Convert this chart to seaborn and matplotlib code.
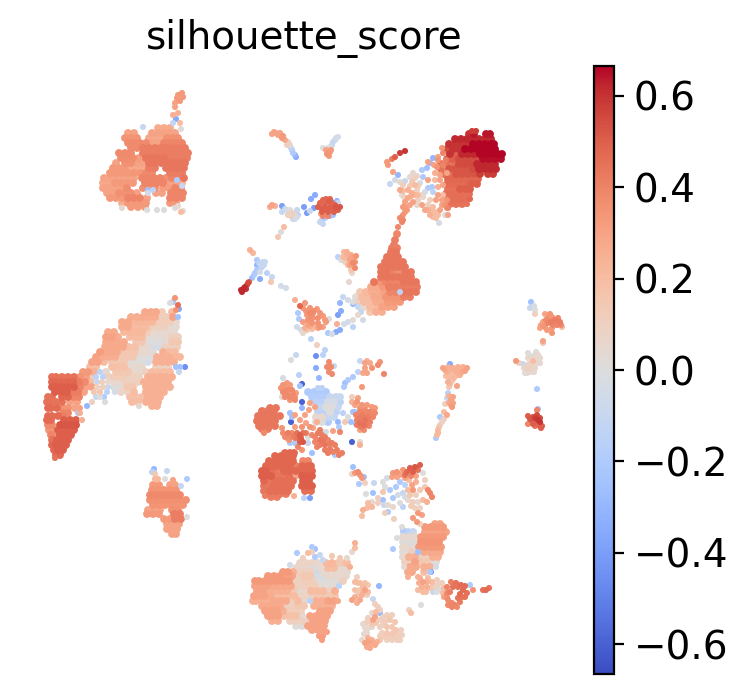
import matplotlib
matplotlib.use("Agg")
import matplotlib.pyplot as plt
import pandas as pd
import seaborn as sns
from matplotlib.cm import ScalarMappable
from matplotlib.colors import Normalize

# Embedding cells, stored as rows: (umap_y, silhouette, [umap_x, ...])
upper_left_rows = [
    (128,.27,[158,164,170]),(133,.3,[128,134,152,158,164,170,175]),
    (138,.35,[125,131,137]),(138,.28,[149,155,161]),(138,.36,[167,173,178]),
    (143,.38,[128,134,140,146]),(143,.3,[152,158]),(143,.4,[164,170,176,182]),
    (148,.38,[131,137]),(148,.42,[143,149,155,161,167,173,179,185]),
    (153,.38,[119,125,131]),(153,.42,[143,149,155,161,167,173,179,185,188]),
    (158,.37,[121,127,133]),(158,.32,[139]),(158,.44,[146,152,158,164]),(158,.42,[170,176,182,187]),
    (163,.3,[116]),(163,.36,[125,131]),(163,.3,[137,143]),(163,.44,[149,155,161,167,173,179,185]),
    (168,.33,[113,119,125]),(168,.28,[131,137,143]),(168,.42,[149,155]),(168,.44,[166,172,178,184]),
    (173,.33,[110,116,122,128]),(173,.34,[134,140]),(173,.38,[146,152]),(173,.42,[170,176,182]),
    (178,.3,[104,110,116,122,128,134]),(178,.4,[142,148,154,160]),(178,.36,[166]),(178,.4,[172,178]),(178,.44,[184]),
    (183,.28,[103,109]),(183,.33,[115,121,127,133]),(183,.4,[145,151,157,163]),(183,.3,[170,176]),(183,.24,[182]),
    (188,.3,[103,109,115,121]),(188,.37,[127]),(188,.36,[143,149,155]),(188,.32,[163,169]),(188,.4,[175,181]),
    (193,.3,[107,113]),(193,.36,[119,125,131]),(193,.3,[137,156,162]),(193,.4,[171,177,183]),
    (198,.33,[110,116,122]),(198,.4,[128,134,140]),(198,.3,[147]),(198,.4,[170,176,182]),
    (203,.25,[122]),(203,.33,[128,134,140,146,170,176]),
    (207,.33,[131,138,145]),
]
upper_left_spots = [
    (182,93,.33),(178,95,.33),(183,97,.33),(177,98,.33),(180,101,.33),(175,103,.3),(175,107,.3),(173,115,.25),
    (178,113,.25),(176,119,-.35),(173,123,-.12),(180,123,.2),(181,129,.02),(122,208,.05),(175,208,.0),
    (147,210,.0),(157,210,.0),(164,210,.0),(143,127,-.1),(148,190,-.25),(153,190,-.15),(148,193,-.05),
    (177,180,-.2),(182,186,-.1),(178,206,.05),(183,211,.02),(181,212,.2),
]

left_hub_rows = [
    (312,.28,[145,151,156]),(312,.12,[162]),(312,.2,[172]),
    (317,.26,[131,137,143,149,155]),(317,.1,[161,167]),(317,.3,[173]),
    (322,.28,[122,128]),(322,.22,[134,140,146,152]),(322,.12,[158,164,170]),(322,.05,[176]),
    (327,.28,[122,128]),(327,.2,[134,140,146]),(327,.1,[152,158,164]),(327,.03,[170,176]),
    (332,.28,[108,114]),(332,.22,[124,130,136,142]),(332,.12,[148]),(332,.05,[156,162,168,174]),
    (337,.3,[106,112]),(337,.26,[118]),(337,.2,[130,136,142]),(337,.03,[148,154,160]),(337,.05,[166]),(337,.1,[172,178]),
    (342,.28,[106,112,118,124]),(342,.15,[136,142]),(342,.0,[148,154,160]),(342,.02,[166]),(342,.15,[172,178]),
    (347,.28,[105,111,117,123]),(347,.18,[129,135]),(347,.05,[141,147]),(347,-.05,[153,159]),(347,.1,[165,171,177]),
    (352,.32,[100]),(352,.28,[105,111,117]),(352,.15,[123,129,135]),(352,.05,[141,147]),(352,.0,[153]),(352,.25,[163]),(352,.2,[169,175]),
    (357,.3,[96]),(357,.26,[103,109,115]),(357,.15,[121,127,133]),(357,.0,[139,145,151]),(357,.25,[157,163,169]),(357,.22,[175,180]),
    (362,.3,[92,98]),(362,.2,[104]),(362,.15,[112,118,124]),(362,.0,[130,136,142]),(362,-.05,[148]),(362,.25,[156,162,168,174]),
    (367,.2,[90,96]),(367,.18,[112,118,124]),(367,.05,[130,136,142]),(367,.1,[156,162,168]),
    (372,.33,[83,88]),(372,.25,[94]),(372,.05,[106]),(372,.15,[116,122,128]),(372,.05,[134,140]),(372,.1,[146]),(372,.2,[152,158,164,170]),
    (377,.45,[52,56,62,68,74]),(377,.35,[80]),(377,.3,[86]),(377,.1,[92]),(377,.1,[109]),(377,.12,[115,121]),(377,.1,[127,133,139]),(377,.25,[148,154,160,166,172]),
    (382,.48,[52,55,61,67,73]),(382,.42,[79]),(382,.38,[85]),(382,.2,[90]),(382,.05,[114,120]),(382,.1,[126,132,138]),(382,.25,[144,150,156,162,168]),
    (387,.5,[52,56,62,68,74]),(387,.4,[80]),(387,.3,[86,92]),(387,.0,[114,120]),(387,.15,[127,133]),(387,.25,[146,152,158,164,170]),
    (392,.5,[55,61,67]),(392,.42,[72,78]),(392,.3,[84]),(392,.08,[121,128]),(392,.2,[134]),(392,.25,[146,152,158,164]),
    (397,.45,[48,52]),(397,.48,[62,68]),(397,.4,[74,79]),(397,.18,[130,136,142]),(397,.25,[148,154,160]),
    (402,.45,[47,50,56,62]),(402,.3,[70,77]),(402,.2,[132,138]),(402,.25,[146,152,158]),
    (406,.25,[152,157]),
    (408,.47,[48,51,57]),(408,.35,[63,68]),(408,.3,[75]),
    (413,.4,[63,68]),
    (416,.47,[48,52,58]),(416,.42,[63]),
    (420,.47,[47,51]),(420,.5,[64,70,76]),
    (425,.38,[48,52]),(425,.52,[60,66,72,76]),
    (430,.35,[49,53]),(430,.5,[58,64,70,74]),
    (435,.4,[51]),(435,.35,[55]),(435,.5,[60,66,71]),
    (440,.45,[52]),(440,.5,[57,63,68]),
    (445,.48,[52]),(445,.5,[56,62,66]),
    (450,.48,[54]),(450,.5,[58,63]),
    (455,.48,[56,60]),
]
left_hub_spots = [
    (178,305,.45),(175,298,.35),(170,303,.0),(173,302,-.2),(179,309,-.35),(176,310,.35),(178,317,-.25),(176,367,-.25),(180,367,-.25),
    (185,367,-.45),(100,372,-.15),(179,372,-.1),(96,377,-.15),(103,377,-.15),(97,382,-.1),(102,382,.1),(108,382,.05),(97,387,.1),
    (103,387,.1),(108,387,-.1),(94,392,.15),(100,392,.15),(107,392,-.15),(115,392,-.05),(96,397,-.1),(104,397,-.2),(100,397,.0),
    (92,402,.1),(105,402,.0),(87,406,-.3),(139,406,.05),(80,408,.3),(80,413,.25),(78,413,-.2),(82,420,.25),(55,458,.45),
]

lower_left_rows = [
    (485,.33,[153,159]),(485,.3,[170,175]),
    (490,.35,[152,158,164,170,176]),(495,.38,[150,156,162,168,174,180]),
    (500,.36,[150,156,162,168,174,180,186]),(505,.35,[153,159,165,171,177,183]),
    (510,.3,[148,154,160]),(510,.36,[172,178]),(514,.33,[147,153,159]),(514,.42,[174,180]),
    (519,.33,[164,170]),(519,.42,[175,181]),(524,.3,[167,173,179]),(529,.3,[167,172,177]),(534,.3,[172,176]),
]
lower_left_spots = [
    (154,469,-.3),(154,472,-.2),(152,472,-.15),(167,471,-.1),(165,479,.0),(187,479,-.2),(181,486,-.1),(187,517,.0),
    (155,474,.15),(155,479,.22),(158,479,.22),(173,480,.3),
]

top_middle_spots = [
    (272,134,.3),(276,133,.28),(280,133,.3),(282,138,.33),(285,140,.28),(288,142,.1),(290,145,.05),(292,150,-.2),
    (293,153,-.2),(296,157,-.35),(338,137,-.05),(335,140,-.1),(332,145,-.1),(328,148,.0),(328,153,.33),(327,154,.35),
    (331,150,.33),(323,148,.0),(274,132,.3),(278,135,.3),(283,136,.33),(287,145,.1),(291,148,-.15),(295,155,-.3),
    (336,138,-.05),(333,142,-.1),(330,147,-.05),(326,150,.3),(330,152,.33),(329,156,.33),
    (272,205,.3),(270,207,.28),(275,206,.25),(282,206,-.4),(282,212,-.1),(287,210,-.05),(292,213,.1),(297,210,-.1),
    (297,217,-.05),(288,215,.1),(293,219,-.1),(298,215,-.15),(304,207,-.4),(307,213,-.4),(310,211,-.1),(314,208,-.4),
    (285,209,-.1),(290,210,.0),(294,214,.05),(295,219,-.05),(291,216,.1),
    (311,199,-.35),(315,195,-.35),(284,227,.2),(281,232,.0),(278,237,.15),
    (326,199,.48),(330,199,.48),(320,203,.48),(326,203,.48),(332,203,.48),(338,203,-.1),(318,207,.5),(324,207,.5),
    (330,207,.5),(336,207,.52),(340,207,.52),(322,212,.5),(328,212,.5),(334,212,.5),(323,216,.4),(328,216,.4),
    (323,200,.48),(329,201,.5),(335,205,.5),(322,209,.5),(327,209,.5),(333,209,.5),(338,210,.5),
    (322,220,-.2),(325,218,-.2),(323,224,-.1),(330,216,-.25),(320,222,-.1),(333,215,-.25),(337,201,-.3),(332,202,-.3),(321,214,.3),
    (338,257,-.15),(347,252,.25),(343,257,.2),(348,255,.25),(356,256,.35),(345,262,.1),(350,260,.3),(353,263,.38),
    (348,265,.2),(355,268,.38),(351,270,.15),(352,273,.05),(349,282,.05),(341,260,.0),
    (346,258,.22),(351,255,.28),(352,258,.3),(350,265,.3),(355,262,.35),(344,252,.22),
]

central_ridge_rows = [
    (234,.4,[397]),(240,.42,[395]),(245,.42,[394]),(248,.42,[392,397]),(252,.44,[391,396]),(257,.44,[387,393,398]),
    (262,.44,[385,391,397,403]),(267,.44,[381,387,393,399,405]),(272,.44,[381,387]),(272,.4,[393]),(272,.35,[399]),(272,.44,[405,411]),
    (277,.44,[381,387,393,399,405,411]),(282,.44,[374]),(282,.35,[380]),(282,.4,[386,392,398]),(282,.44,[404,410,416]),
    (287,.28,[371,377]),(287,.33,[383]),(287,.42,[389,395,401,407,413,417]),
    (292,.15,[360]),(292,.22,[366]),(292,.26,[372,378]),(292,.3,[384]),(292,.4,[390,396]),(292,.44,[404,410,416]),
    (297,.03,[356]),(297,.2,[362,368]),(297,.28,[374,380]),(297,.35,[386,392,398]),(297,.42,[404,410]),
    (302,.1,[358]),(302,.2,[364,370]),(302,.27,[376,382]),(302,.33,[388,394,400]),
    (307,.05,[364]),(307,.2,[370,376]),(307,.3,[382,388,394]),(312,.15,[370]),(312,.25,[376,382]),
]
central_ridge_spots = [(400,292,-.15),(353,302,.0),(358,307,-.1),(361,312,-.1)]

top_right_rows = [
    (134,.6,[469]),(134,.64,[474,486,490]),(139,.62,[455,461,467,473,479,485,491]),
    (144,.6,[449,455,461,467]),(144,.66,[473,479,485,491,494]),(149,.55,[447]),(149,.6,[453,459]),(149,.66,[465,471,477,483,489,495]),
    (154,.6,[450]),(154,.5,[456]),(154,.62,[462,468,474]),(154,.66,[480,486,492,498,502]),(159,.5,[447,453]),(159,.55,[459,465,471,477]),(159,.65,[483,489,495,501]),
    (164,.45,[441,447,453]),(164,.55,[459,465,471]),(164,.62,[477,483,489,495]),(169,.45,[441]),(169,.52,[449,455,461,467]),(169,.55,[473]),(169,.62,[479,485,491,496]),
    (174,.45,[444,450]),(174,.52,[456,462,468,474]),(174,.58,[480,488,493]),(179,.48,[448,454,460,466,472,478]),
    (184,.47,[447,453,459,465]),(184,.5,[471,477]),(189,.45,[448,454]),(189,.5,[460,466,470]),(194,.46,[446,452,458,464,469]),
    (199,.46,[448,454,460,466]),(204,.45,[450,456,462]),
]
top_right_spots = [
    (472,131,.58),(476,131,.58),(448,208,.4),(467,204,.45),(470,199,.48),
    (405,151,.6),(400,153,.58),(395,157,.5),(392,159,.42),(387,162,.33),(388,165,.33),(393,172,.3),(398,175,-.3),
    (390,184,-.1),(395,180,-.05),(400,182,.05),(405,181,-.1),(403,185,.1),(400,190,.28),(403,191,.2),(402,195,.0),
    (413,173,.05),(415,178,.1),(412,182,.15),(415,185,.2),(417,190,.1),(412,193,.25),(408,198,.28),(413,202,.3),
    (405,202,.3),(403,207,.33),(407,210,.33),(403,215,.35),(402,222,.4),(398,227,.38),(403,220,.38),
    (410,177,.05),(417,176,.05),(410,186,.15),(418,186,.12),(408,190,.25),(415,195,.22),(410,205,.3),(405,207,.32),
    (411,196,.27),(418,195,.2),(405,212,.33),(400,218,.38),(404,197,.1),
    (422,195,.05),(420,183,-.05),(423,177,-.2),(422,170,-.2),(427,168,-.25),(430,163,-.3),(433,158,-.3),(438,157,.3),
    (443,153,.4),(442,148,.35),(428,162,.3),(428,180,.3),(435,173,.25),(437,167,.35),(443,165,.4),(447,173,.3),
    (432,187,-.2),(428,188,-.2),(433,192,-.15),(438,187,.25),(443,185,.3),(443,195,.2),(438,195,.3),(447,200,.35),
    (447,208,.35),(442,205,.3),(422,205,.3),(428,205,.1),(433,207,.2),(435,212,.2),(432,213,.2),(433,217,.2),
    (438,215,.2),(445,215,.0),(439,223,-.05),(417,205,.05),(418,200,.1),(423,197,.05),
    (425,192,-.05),(435,180,.2),(440,175,.3),(434,165,.3),(438,160,.35),(446,160,.42),(440,180,.3),(430,200,.1),
    (436,200,.3),(440,210,.3),(428,210,.25),(425,210,.28),(431,210,.2),(436,218,.2),(430,215,.25),(445,205,.35),(442,200,.3),(448,215,.3),
]

diagonal_spots = [
    (242,292,.62),(243,290,.62),(245,287,.6),(247,285,.55),(249,282,.5),(244,288,.62),(246,289,.6),(241,290,.62),(248,283,.55),
    (250,250,.25),(253,253,.22),(257,260,-.2),(257,265,-.3),(263,262,-.1),(265,262,-.1),(262,267,-.15),(260,272,-.05),
    (255,273,-.2),(252,278,-.25),(260,279,-.35),(267,273,-.15),(272,277,-.1),(271,282,.15),(281,286,-.05),(286,288,-.05),
    (259,263,-.15),(261,265,-.1),(264,265,-.1),(257,270,-.2),(254,275,-.2),
]

middle_spots = [
    (300,306,.48),(295,300,.25),(305,303,.33),(303,308,.33),(310,308,.35),(310,313,.38),(320,313,.35),(307,315,.33),
    (323,316,.33),(313,318,.35),(312,323,.35),(318,323,.35),(308,325,.3),(315,327,.22),(320,327,.35),(307,330,.15),
    (306,311,.35),(314,311,.36),(318,318,.36),(325,320,.33),(308,320,.35),(303,322,.32),(313,313,.38),(317,309,.33),
    (311,318,.36),(305,328,.25),(310,326,.28),(318,328,.3),(326,322,.32),
    (303,333,.05),(312,329,.2),(298,313,-.2),(299,319,-.2),(297,327,-.05),(301,330,-.05),(329,319,.0),(323,327,.3),
    (328,333,-.2),(332,334,-.05),(336,332,-.35),(337,324,.25),(344,324,-.05),(348,322,-.05),(353,320,.02),(340,303,-.3),
    (341,311,-.35),(338,315,-.4),(343,297,-.1),(348,300,-.05),(353,304,-.3),(358,315,.05),(363,320,-.05),
    (353,327,-.15),(340,330,-.35),(311,339,-.15),(317,345,.1),
    (316,356,-.45),(325,350,-.15),(323,355,-.15),(296,355,-.1),(291,360,.0),(316,368,-.35),(319,378,-.3),(299,375,-.15),
    (302,384,-.6),(300,386,-.25),(283,378,-.05),(329,362,.38),(327,367,.38),(331,367,.38),(329,372,.38),(332,374,.38),(334,366,-.1),
    (378,365,.38),(370,363,.28),(365,363,.3),(365,368,.3),(372,368,.35),(380,362,.35),(363,373,.28),(367,373,.3),
    (358,372,-.15),(353,377,-.2),(348,380,-.2),(345,383,-.25),(344,387,-.2),(384,374,.4),(362,387,.33),(360,361,-.1),(367,361,.25),(352,397,.1),
    (358,398,.3),(352,402,.25),(357,402,.35),(362,405,.35),(367,405,.33),(372,407,.33),(375,408,.33),(360,408,.35),
    (360,412,.4),(363,415,.42),(368,417,.42),(373,417,.4),(360,418,.42),(365,420,.45),(370,422,.42),(360,423,.45),
    (364,425,.45),(364,430,.38),(357,425,.42),(353,412,-.25),(355,412,-.25),(348,417,.0),(345,422,.15),(351,422,-.25),
    (355,405,.3),(365,410,.38),(370,412,.38),(375,413,.38),(356,415,.4),(357,420,.42),(368,412,.4),(373,412,.38),
    (366,425,.42),(361,427,.42),(369,426,.38),
    (338,422,-.3),(339,427,-.2),(343,413,-.15),(356,424,-.25),(360,430,.3),
    (283,385,.35),(287,383,.33),(283,392,.38),(288,390,.38),(292,390,.38),(285,397,.38),(290,397,.38),(295,397,.35),
    (285,388,.35),(290,385,.33),(296,393,.32),(281,388,.35),(287,394,.38),(293,394,.38),
    (282,397,.05),(290,400,.35),(295,400,.38),(302,402,-.6),(310,403,.3),(315,407,.3),(302,408,-.3),(309,410,.3),
    (305,415,.3),(295,415,.3),(290,413,-.25),(292,417,-.25),(291,422,-.6),(300,420,.3),(306,423,.3),(310,427,.35),
    (317,422,.25),(282,428,.35),(295,427,.3),(302,427,.35),
    (288,433,.42),(285,437,.38),(292,433,.38),(287,438,.35),(289,440,.35),(290,443,-.2),(297,433,.45),(300,435,.5),
    (303,433,.45),(298,438,.45),(303,442,.52),(295,443,-.2),(298,447,.4),(302,450,.35),(308,437,.0),(308,443,-.1),(313,428,.3),
    (294,436,.42),(301,438,.5),(306,433,.42),(295,438,.42),(300,442,.5),(283,433,.38),(291,437,.38),
    (320,430,.42),(315,437,.4),(322,435,.42),(325,437,.42),(315,442,.4),(320,440,.44),(328,440,.4),(320,445,.42),
    (325,445,.44),(332,443,.42),(335,445,.42),(325,450,.42),(330,449,.42),(337,450,.42),(342,453,.42),(333,452,.4),
    (318,433,.42),(312,435,.38),(317,447,.4),(330,444,.42),(323,441,.44),(328,453,.42),(339,455,.42),
    (333,431,.3),(340,432,.4),(352,442,-.6),(360,442,.05),(360,445,.25),(312,453,-.25),(335,455,-.2),
    (318,388,-.15),(322,388,-.15),(322,432,-.05),(326,432,-.05),
]
blue_core_rows = [
    (392,-.2,[308,314,320,326]),(397,-.18,[312,318,324]),(397,-.1,[330,336,340]),
    (402,-.15,[316,322]),(402,-.05,[328,334]),(402,-.15,[340]),(407,-.12,[320]),(407,.0,[326,332]),(407,-.1,[338]),
    (412,-.15,[318,324]),(412,.0,[330]),(412,-.15,[336]),(417,.05,[316,322]),(417,-.1,[328,334]),
    (422,.0,[316,322]),(422,-.2,[328]),
]
lobe_rows = [
    (408,.44,[270,276]),(411,.44,[262,268,274]),(416,.44,[258,264,270,276,280]),(421,.44,[257,263,269,275]),
    (426,.44,[259,263,269,275]),(429,.42,[262,268]),
    (453,.48,[285,290,294]),(456,.48,[275,281,287,293]),(461,.48,[269,275,281,287,293]),(461,.4,[303,308]),
    (466,.48,[266,272,278,284,290]),(466,.42,[296]),(466,.48,[302,308,311]),
    (471,.5,[262,266]),(471,.46,[272]),(471,.43,[278]),(471,.48,[284,290,296,302,308,312]),
    (476,.5,[262,265,271]),(476,.44,[277,283]),(476,.46,[289]),(476,.3,[295]),(476,.5,[302,308,312]),
    (481,.48,[264]),(481,.44,[269]),(481,.46,[275,281,287,293]),(481,.5,[303,309]),
    (486,.44,[264,267]),(486,.46,[273,279,285,291]),(486,.5,[302,308,312]),
    (491,.44,[264]),(491,.46,[270,276,282,288,305,311]),(494,.43,[268,274,280,286]),
    (497,.42,[271,277]),
]
lobe_spots = [(264,433,.38),(294,496,.25),(304,498,-.15),(310,498,-.4),(265,496,.42)]

lower_band_spots = [
    (420,465,.5),(415,467,.52),(410,468,.5),(407,472,.48),(413,472,.5),(418,470,.45),(403,470,.35),(397,472,.35),
    (392,477,.3),(397,477,.3),(387,478,-.05),(383,482,.0),(400,482,-.2),(405,485,-.15),(412,485,.3),(413,490,.33),
    (408,490,.2),(403,493,-.1),(398,495,-.05),(383,492,.15),(373,493,-.25),(378,498,.1),(372,502,.05),(367,508,.2),
    (363,510,.25),(362,516,.2),(383,500,-.25),(388,505,.05),(393,498,-.2),(393,507,.05),(388,512,-.2),(385,513,.1),
    (403,507,-.15),(408,500,.05),(413,502,.1),(418,502,.05),(415,508,.1),(418,513,.33),(413,518,.33),(417,522,.33),
    (405,475,.45),(411,476,.4),(416,476,.3),(400,475,.3),(393,473,.33),(405,478,.3),(409,480,.2),(416,482,.25),
    (420,490,.15),(410,495,.15),(416,495,.1),(405,497,-.05),(400,503,.0),(411,506,.12),(420,508,.08),(378,503,.12),
    (372,507,.22),(368,503,.2),(384,505,-.1),(396,487,-.2),(390,490,-.2),(385,487,.0),(430,493,.4),(423,500,.2),(422,515,.3),
    (420,524,.1),(425,487,.15),(428,490,.4),(432,497,.4),(427,502,.25),(425,480,.1),(423,473,.0),(358,472,.38),
    (355,473,.33),(360,475,.35),(362,478,.33),(364,477,-.25),(353,467,-.25),(352,474,.1),(365,483,.1),(359,484,-.2),
    (366,494,.0),(374,483,-.1),(394,519,.1),
    (397,538,.0),(393,549,-.2),(403,530,-.2),
    (420,578,.25),(423,582,.3),(428,578,.2),(432,582,.2),(437,580,.1),(422,587,.25),(427,587,.25),(423,592,.2),
    (430,588,.15),(435,587,.1),(442,583,.1),(440,590,-.05),(443,593,.2),(433,592,-.1),(447,587,.4),(453,587,.45),
    (427,582,.25),(419,583,.25),(433,585,.1),(438,585,.08),(426,592,.2),(418,590,.2),(437,592,.0),(444,588,.2),
    (451,582,.42),(456,583,.45),(461,585,.47),(465,586,.47),(460,594,.47),(447,593,.38),(444,597,.3),(462,597,.45),
    (452,607,.4),(448,605,.38),(457,607,.38),
    (458,587,.45),(450,592,.42),(463,590,.47),(467,593,.45),(465,597,.45),(458,598,.45),(448,600,.38),(452,603,.4),
    (447,597,.35),(455,605,.4),(460,602,.42),(470,585,-.2),(473,590,.35),(483,590,.45),(486,590,.47),(489,588,.45),
]
lower_right_rows = [
    (524,.3,[435,440]),(527,.33,[425,431,437,443]),(532,-.15,[404,408]),(532,-.1,[413]),(532,.3,[425,431,437,443,446]),
    (537,.05,[403,409,415]),(537,.33,[421,427,433,439,443]),(542,.0,[403,409,415]),(542,.35,[421,427,433,439]),
    (547,.05,[403,407]),(547,.02,[413]),(547,.33,[419,425,431,437,441]),(552,.02,[403,406]),(552,.1,[412]),(552,.28,[424,430,436,440]),
    (557,.05,[403,405]),(557,.25,[409,415]),(557,.1,[421,427]),(557,.25,[433,438]),(562,.1,[405,409]),(562,.3,[415]),(562,.15,[421,427]),(562,.02,[433,436]),
    (567,.28,[410,416]),(567,.25,[424,430]),(572,.28,[408,412]),(572,.2,[424]),
]
lower_right_spots = [
    (402,527,.0),(418,552,-.25),(404,567,.05),(436,567,-.05),(430,572,-.2),(431,572,-.45),(408,577,.25),(418,577,.25),
]

bottom_rows = [
    (563,.08,[300,306,312]),(563,.05,[318]),(563,.22,[326,332]),(563,.15,[338,344]),(563,.2,[347]),
    (568,.05,[296,302,308]),(568,-.05,[314]),(568,.05,[320]),(568,.2,[328,334]),(568,.02,[340,346]),
    (572,.33,[283,288]),(572,.25,[293]),(572,.1,[299,305,311]),(572,-.1,[317]),(572,.05,[323,329,335,341,347]),
    (576,.33,[268,274,280]),(576,.3,[286,292]),(576,.1,[298]),(576,.15,[304,310]),(576,-.05,[316,322]),(576,.05,[328,334,340,346]),
    (581,.33,[255,259,265,271,277,283,289]),(581,.1,[295,301]),(581,.12,[307]),(581,.1,[313]),(581,.0,[319,325,331,337]),(581,.1,[343]),
    (586,.3,[255,261,267]),(586,.28,[273,279,285,291]),(586,.1,[297,303]),(586,.12,[309,315]),(586,.03,[321,327,333]),
    (591,.3,[257,263]),(591,.25,[269,275,281,287]),(591,.15,[293]),(591,.05,[299,305]),(591,.2,[311,317,323]),(591,.1,[329]),(591,.25,[335]),
    (596,.3,[254,258,264]),(596,.27,[270]),(596,.2,[276,282,288,294]),(596,.08,[300,306]),(596,.1,[312]),(596,.15,[318,324,330,335]),
    (601,.25,[253,256,262,268]),(601,.28,[274,280,286]),(601,.1,[292]),(601,.2,[298]),(601,.05,[304]),(601,.25,[316,322]),(601,.3,[328,334]),
    (606,.28,[262,268,274,280]),(606,.1,[286,292]),(606,.15,[298,304]),(606,.25,[314,320,326,332]),
    (611,.3,[265,271,277]),(611,.25,[283]),(611,.12,[289,295]),(611,.1,[301]),(611,.3,[320,326,330]),
    (616,.3,[268,272,278]),(616,.18,[284,290,296]),(616,.03,[302]),(616,.3,[310,316,322,327]),
    (621,.25,[272,278]),(621,.1,[290,296,302,308]),(621,.3,[313,319,325]),
    (626,.02,[296,302]),(626,.3,[308,314,320,324]),(630,.3,[312,318,322]),
]
bottom_spots = [
    (312,547,-.2),(315,549,-.25),(297,553,-.2),(308,553,.2),(312,552,.1),(303,558,.1),(315,557,-.2),(320,555,-.1),
    (323,560,-.1),(332,556,.15),(340,558,.15),(347,558,.05),(350,567,.25),(355,543,.25),(355,548,.2),(352,552,.05),(290,565,-.05),
    (339,586,-.15),(310,601,-.15),(338,601,.28),(327,632,.3),(319,636,.32),(323,636,.32),(322,640,.32),
    (357,577,.1),(355,582,.2),(358,583,.2),(363,587,.2),(368,585,.15),(360,590,.15),(365,590,.3),(368,592,.2),
    (360,583,.2),(365,583,.18),(363,592,.2),(355,590,.18),(355,597,.25),(360,600,.28),(357,603,.25),
    (358,595,.15),(362,595,.25),(352,600,.3),(367,595,.1),(379,586,-.3),(373,599,-.1),(375,604,.1),(378,607,.12),
    (375,617,.3),(372,613,.05),(380,613,-.3),(387,615,.1),(392,615,.1),(367,622,.1),(373,620,.3),(380,620,.1),
    (385,622,.12),(390,620,.15),(365,628,.05),(372,627,.05),(380,627,.1),(387,627,.15),(392,627,.15),(367,633,.05),
    (368,618,.1),(372,624,.15),(376,623,.15),(383,617,.1),(389,618,.12),(395,622,.15),(363,624,.05),(383,625,.1),
    (396,630,.15),(390,637,.12),(385,637,.12),(400,640,.1),(380,636,.12),(395,637,.12),(372,640,.25),(368,638,.25),
    (375,645,.28),(370,648,.28),(362,640,.05),(376,612,.2),(368,628,.05),(401,630,.1),(364,634,.05),
    (382,633,.12),(387,633,.15),(393,633,.15),(398,635,.12),(368,642,.3),(365,643,.3),(372,643,.28),(377,642,.25),
    (380,640,.15),(387,640,.08),(392,640,.1),(397,640,.1),(402,635,.08),(367,647,.28),(380,610,.1),(409,610,.1),(411,613,.2),(421,605,.0),
]

right_spots = [
    (531,302,-.25),(532,307,-.1),(530,308,-.1),(535,310,.0),(535,314,.1),(545,314,.3),(548,318,.35),(552,317,.35),
    (543,322,.3),(548,323,.4),(555,320,.42),(560,322,.42),(540,328,.3),(545,327,.33),(552,328,.33),(557,325,.4),
    (550,314,.35),(546,320,.38),(551,322,.42),(553,325,.4),(558,318,.4),(543,326,.35),(547,330,.33),(541,325,.3),(561,325,.38),(534,306,-.05),
    (562,327,.2),(552,333,.35),(543,341,.3),(543,343,.15),
    (516,361,.33),(519,363,.1),(523,364,-.1),(528,353,.0),(528,358,.05),(536,352,.02),(533,361,.2),(538,360,.05),
    (530,356,.0),(534,356,.05),(536,364,.05),(529,364,.08),(524,368,.05),(534,372,.05),(531,368,.08),(538,355,.05),(540,358,.05),(527,373,.03),
    (532,365,.08),(527,368,.1),(525,373,.0),(535,368,.05),(530,372,.05),(540,363,.05),(537,389,-.2),
    (538,409,-.25),(528,416,.5),(533,417,.52),(538,420,.6),(535,422,.45),(542,426,.5),(528,424,.4),(538,425,.48),(537,410,.4),(532,420,.5),
    (530,419,.52),(535,418,.58),(537,415,.55),(540,422,.6),(533,424,.5),(540,418,.55),(535,426,.45),(541,428,.5),
    (443,368,.3),(448,367,.25),(453,368,.25),(458,367,.25),(463,367,.25),(467,368,.3),(447,372,.25),(452,372,.2),
    (445,370,.28),(450,370,.22),(455,370,.25),(460,370,.25),(465,371,.3),(451,375,.2),(458,375,.22),(446,376,.2),(450,384,.2),(449,387,.15),(454,378,.22),
    (457,372,.25),(462,372,.28),(449,377,.2),(455,376,.2),(460,375,.25),(448,382,.25),(452,381,.15),(457,386,.3),(450,364,-.35),
    (448,393,-.15),(453,397,.3),(447,398,-.1),(449,403,.28),(453,403,.3),(445,404,.1),(452,407,.33),(447,415,.28),
    (451,400,.3),(449,396,.25),(451,405,.3),(444,412,.2),(442,422,.1),(439,427,.15),(438,433,.22),
    (440,417,-.2),(444,419,.1),(440,425,.05),(438,430,.2),(437,435,.2),(436,438,-.2),
]

score_limit = 0.665

row_groups = [upper_left_rows, left_hub_rows, lower_left_rows, central_ridge_rows, top_right_rows,
              blue_core_rows, lobe_rows, lower_right_rows, bottom_rows]
spot_groups = [upper_left_spots, left_hub_spots, lower_left_spots, top_middle_spots, central_ridge_spots,
               top_right_spots, diagonal_spots, middle_spots, lobe_spots, lower_band_spots,
               lower_right_spots, bottom_spots, right_spots]

dense = pd.DataFrame([(x, y, s) for rows in row_groups for y, s, xs in rows for x in xs],
                     columns=["umap1", "umap2", "silhouette_score"]).sort_values("silhouette_score")
sparse = pd.DataFrame([p for spots in spot_groups for p in spots],
                      columns=["umap1", "umap2", "silhouette_score"]).sort_values("silhouette_score")

sns.set_style("white")
W, H = 748, 694
fig = plt.figure(figsize=(W / 200, H / 200), dpi=200)
ax = fig.add_axes([35 / W, 1 - 675 / H, 537 / W, 610 / H])
norm = Normalize(-score_limit, score_limit)
# Crowded clusters get a wider dot so neighbouring cells merge into one mass
sns.scatterplot(data=dense, x="umap1", y="umap2", hue="silhouette_score", hue_norm=norm,
                palette="coolwarm", s=8, linewidth=0, legend=False, ax=ax)
sns.scatterplot(data=sparse, x="umap1", y="umap2", hue="silhouette_score", hue_norm=norm,
                palette="coolwarm", s=4.8, linewidth=0, legend=False, ax=ax)
ax.set_xlim(35, 572)
ax.set_ylim(675, 65)
ax.set_axis_off()
fig.text(304 / W, 1 - 39 / H, "silhouette_score", fontsize=14, ha="center", va="center", color="black")

cax = fig.add_axes([594 / W, 1 - 674 / H, 20 / W, 608 / H])
cbar = fig.colorbar(ScalarMappable(norm=norm, cmap="coolwarm"), cax=cax)
cbar.set_ticks([-0.6, -0.4, -0.2, 0.0, 0.2, 0.4, 0.6])
cbar.ax.tick_params(labelsize=14, length=3.5, width=0.8, color="black", labelcolor="black", right=True)
cbar.outline.set_edgecolor("black")
cbar.outline.set_linewidth(0.8)

fig.savefig("out.png", dpi=200, facecolor="white")
